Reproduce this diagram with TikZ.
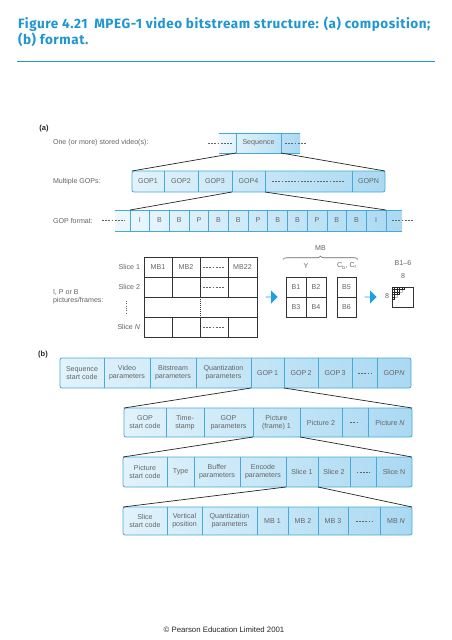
\documentclass[tikz,border=0pt]{standalone}
\usepackage{fontspec}
\setmainfont{Liberation Sans}
\newfontfamily\titlefont[LetterSpace=4]{Fira Sans}
\usetikzlibrary{shapes.arrows,decorations.pathreplacing,calc}
\definecolor{tblue}{RGB}{30,150,210}
\definecolor{cellL}{RGB}{226,243,252}
\definecolor{cellR}{RGB}{170,217,242}
\definecolor{cellB}{RGB}{70,170,216}
\definecolor{txt}{RGB}{100,100,100}
\definecolor{ablue}{RGB}{30,160,225}
\begin{document}
\begin{tikzpicture}[x=1pt,y=-1pt,
  lbl/.style={font=\fontsize{7.1}{8}\selectfont, text=txt, inner sep=0pt, outer sep=0pt},
  cell/.style={lbl, align=center, anchor=center},
  rowbox/.style={draw=cellB, line width=0.8pt, rounded corners=2pt, inner sep=0pt, outer sep=0pt, left color=cellL, right color=cellR},
  strip/.style={inner sep=0pt, outer sep=0pt, left color=cellL!60!white, right color=cellR},
  divider/.style={draw=cellB, line width=0.8pt},
  fan/.style={draw=black!85, line width=0.7pt},
  gridln/.style={draw=black!80, line width=0.7pt},
  dashln/.style={draw=txt, dash pattern=on 1.8pt off 1.4pt, line width=0.6pt},
  bluearrow/.style={single arrow, fill=ablue, draw=none, minimum height=12pt, minimum width=13pt, single arrow head extend=3pt, inner sep=0pt},
  sectlbl/.style={font=\bfseries\fontsize{7.5}{9}\selectfont, text=black!85, inner sep=0pt}
]
\useasboundingbox (0,0) rectangle (452,640);
\fill[white] (0,0) rectangle (452,640);

% title
\node[anchor=base west, inner sep=0pt, font=\titlefont\bfseries\fontsize{13.5}{15}\selectfont, text=tblue] (title1) at (18,28) {Figure 4.21\enspace MPEG-1 video bitstream structure: (a) composition;};
\node[anchor=base west, inner sep=0pt, font=\titlefont\bfseries\fontsize{13.5}{15}\selectfont, text=tblue] (title2) at (18,44) {(b) format.};
\draw[tblue, line width=1.5pt] (17,61.5) -- (435,61.5);

% ===== (a) =====
\node[sectlbl] (la) at (44,129) {(a)};
\node[lbl, anchor=west] (t1) at (53,143) {One (or more) stored video(s):};
\node[lbl, anchor=west] (t2) at (53,181.5) {Multiple GOPs:};
\node[lbl, anchor=west] (t3) at (53,220.5) {GOP format:};

% sequence strip
\node[strip, minimum width=81pt, minimum height=20pt] (seqstrip) at (259.5,143) {};
\draw[divider] (seqstrip.north west) -- (seqstrip.north east);
\draw[divider] (seqstrip.south west) -- (seqstrip.south east);
\node[cell, draw=cellB, line width=0.8pt, minimum width=45pt, minimum height=20pt] (seq) at (258.5,143) {Sequence};
\draw[dashln] (208,143) -- (232,143);
\draw[dashln] (285,143) -- (307,143);

% GOP row
\node[rowbox, minimum width=253pt, minimum height=21pt] (rowa2) at (258.5,181.5) {};
\foreach \n/\l/\r/\t in {g1/132/164/{GOP1}, g2/164/198/{GOP2}, g3/198/232/{GOP3}, g4/232/265/{GOP4}, gd/265/352/{}, gN/352/385/{GOPN}}
  \node[cell, minimum width={(\r-\l)*1pt}, minimum height=21pt] (\n) at ({(\l+\r)/2},181.5) {\t};
\foreach \n in {g2,g3,g4,gd,gN} \draw[divider] (\n.north west) -- (\n.south west);
\draw[dashln] ($(gd.west)+(7,0)$) -- ($(gd.east)+(-7,0)$);

% GOP format strip
\node[strip, minimum width=287pt, minimum height=21pt] (fmtstrip) at (258.5,220.5) {};
\draw[divider] (fmtstrip.north west) -- (fmtstrip.north east);
\draw[divider] (fmtstrip.south west) -- (fmtstrip.south east);
\foreach \t [count=\i] in {I,B,B,P,B,B,P,B,B,P,B,B,I}
  \node[cell, draw=cellB, line width=0.8pt, minimum width=19.69pt, minimum height=21pt] (f\i) at ({130+19.69*(\i-0.5)},220.5) {\t};
\draw[dashln] (102,220.5) -- (125,220.5);
\draw[dashln] (392,220.5) -- (413,220.5);

% fans (a)
\draw[fan] (seq.south west) -- (rowa2.north west);
\draw[fan] (seq.south east) -- (rowa2.north east);
\draw[fan] (g4.south west) -- (f1.north west);
\draw[fan] (g4.south east) -- (f13.north east);

% slices grid
\node[lbl, anchor=west, align=left] (ipb) at (53,297) {I, P or B\\pictures/frames:};
\node[lbl, anchor=east] (sl1) at (140,267) {Slice 1};
\node[lbl, anchor=east] (sl2) at (140,287) {Slice 2};
\node[lbl, anchor=east] (slN) at (140,327) {Slice \textit{N}};
\draw[txt, line width=0.9pt, dash pattern=on 1pt off 1.3pt] (126,301) -- (126,313);
\node[gridln, minimum width=113pt, minimum height=80pt, inner sep=0pt, outer sep=0pt] (sgrid) at (200.5,297) {};
\foreach \y in {277,297,317} \draw[gridln] (144,\y) -- (257,\y);
\foreach \x in {172,200,228} {\draw[gridln] (\x,257) -- (\x,297); \draw[gridln] (\x,317) -- (\x,337);}
\draw[gridln, dash pattern=on 1pt off 1pt] (200,297) -- (200,317);
\node[lbl] (mb1) at (158,267) {MB1};
\node[lbl] (mb2) at (186,267) {MB2};
\node[lbl] (mb22) at (242.5,267) {MB22};
\foreach \y in {267,287,327} \draw[dashln] (203,\y) -- (225,\y);

% MB blocks
\node[gridln, minimum width=40pt, minimum height=40pt, inner sep=0pt, outer sep=0pt] (mbY) at (306,297) {};
\draw[gridln] (306,277) -- (306,317);
\draw[gridln] (286,297) -- (326,297);
\node[lbl] (b1) at (296,287) {B1};
\node[lbl] (b2) at (316,287) {B2};
\node[lbl] (b3) at (296,307) {B3};
\node[lbl] (b4) at (316,307) {B4};
\node[gridln, minimum width=19pt, minimum height=40pt, inner sep=0pt, outer sep=0pt] (mbC) at (346.5,297) {};
\draw[gridln] (337,297) -- (356,297);
\node[lbl] (b5) at (346.5,287) {B5};
\node[lbl] (b6) at (346.5,307) {B6};
\draw[txt, line width=0.6pt, decorate, decoration={brace, amplitude=3.5pt}] (283,259.5) -- (358,259.5);
\node[lbl] (mblbl) at (320.5,248) {MB};
\node[lbl] (ylbl) at (306,266) {Y};
\node[lbl] (clbl) at (347,266) {C\textsubscript{b}, C\textsubscript{r}};

% arrows
\node[bluearrow] (arr1) at ($(sgrid.east)!0.5!(mbY.west)$) {};

% 8x8 block
\node[lbl] (b16) at (403,263) {B1--6};
\node[lbl] (e8a) at (403,276) {8};
\node[gridln, minimum width=21pt, minimum height=20pt, inner sep=0pt, outer sep=0pt] (blk) at (402.5,297) {};
\node[lbl] (e8b) at (387,296.5) {8};
\node[bluearrow] (arr2) at ($(mbC.east)!0.4!(blk.west)$) {};
\begin{scope}[shift={(392,287)}]
  \begin{scope}
    \clip (-0.3,-0.3) -- (12.8,-0.3) -- (12.8,2.8) -- (10.3,2.8) -- (10.3,5.3) -- (7.8,5.3) -- (7.8,7.8) -- (5.3,7.8) -- (5.3,10.3) -- (2.8,10.3) -- (2.8,12.8) -- (-0.3,12.8) -- cycle;
    \draw[black!85, line width=0.5pt, step=2.5pt] (0,0) grid (12.5,12.5);
  \end{scope}
\end{scope}

% ===== (b) =====
\node[sectlbl] (lb) at (43,355) {(b)};

% row b1
\node[rowbox, minimum width=351pt, minimum height=30pt] (rb1) at (235.5,373) {};
\foreach \n/\l/\r/\t in {sq/60/104/{Sequence\\start code}, vid/104/150/{Video\\parameters}, bit/150/196/{Bitstream\\parameters}, qnt/196/251/{Quantization\\parameters}, bg1/251/284/{GOP\,1}, bg2/284/318/{GOP\,2}, bg3/318/352/{GOP\,3}, bgd/352/377/{}, bgN/377/411/{GOP\textit{N}}}
  \node[cell, minimum width={(\r-\l)*1pt}, minimum height=30pt] (\n) at ({(\l+\r)/2},373) {\t};
\foreach \n in {vid,bit,qnt,bg1,bg2,bg3,bgd,bgN} \draw[divider] (\n.north west) -- (\n.south west);
\draw[dashln] ($(bgd.center)+(-6.5,0)$) -- ($(bgd.center)+(6.5,0)$);

% row b2
\node[rowbox, minimum width=288pt, minimum height=29pt] (rb2) at (268,422.5) {};
\foreach \n/\l/\r/\t in {gsc/124/166/{GOP\\start code}, ts/166/204/{Time-\\stamp}, gp/204/253/{GOP\\parameters}, p1/253/300/{Picture\\(frame) 1}, p2/300/342/{Picture 2}, pd/342/368/{}, pN/368/412/{Picture \textit{N}}}
  \node[cell, minimum width={(\r-\l)*1pt}, minimum height=29pt] (\n) at ({(\l+\r)/2},422.5) {\t};
\foreach \n in {ts,gp,p1,p2,pd,pN} \draw[divider] (\n.north west) -- (\n.south west);
\draw[dashln] ($(pd.center)+(-4.8,0)$) -- ($(pd.center)+(4.8,0)$);

% row b3
\node[rowbox, minimum width=289pt, minimum height=30pt] (rb3) at (267.5,472) {};
\foreach \n/\l/\r/\t in {psc/123/167/{Picture\\start code}, typ/167/194/{Type}, buf/194/240/{Buffer\\parameters}, enc/240/286/{Encode\\parameters}, s1/286/318/{Slice 1}, s2/318/350/{Slice 2}, sd/350/376/{}, sN/376/412/{Slice N}}
  \node[cell, minimum width={(\r-\l)*1pt}, minimum height=30pt] (\n) at ({(\l+\r)/2},472) {\t};
\foreach \n in {typ,buf,enc,s1,s2,sd,sN} \draw[divider] (\n.north west) -- (\n.south west);
\draw[dashln] ($(sd.center)+(-6.5,0)$) -- ($(sd.center)+(6.5,0)$);

% row b4
\node[rowbox, minimum width=289pt, minimum height=28pt] (rb4) at (267.5,521) {};
\foreach \n/\l/\r/\t in {ssc/123/167/{Slice\\start code}, vp/167/202/{Vertical\\position}, qp/202/257/{Quantization\\parameters}, m1/257/288/{MB 1}, m2/288/318/{MB 2}, m3/318/348/{MB 3}, md/348/380/{}, mN/380/412/{MB \textit{N}}}
  \node[cell, minimum width={(\r-\l)*1pt}, minimum height=28pt] (\n) at ({(\l+\r)/2},521) {\t};
\foreach \n in {vp,qp,m1,m2,m3,md,mN} \draw[divider] (\n.north west) -- (\n.south west);
\draw[dashln] ($(md.center)+(-8.3,0)$) -- ($(md.center)+(8.3,0)$);

% fans (b)
\draw[fan] (bg1.south west) -- (rb2.north west);
\draw[fan] (bg1.south east) -- (rb2.north east);
\draw[fan] (p1.south west) -- (rb3.north west);
\draw[fan] (p1.south east) -- (rb3.north east);
\draw[fan] (s1.south west) -- (rb4.north west);
\draw[fan] (s1.south east) -- (rb4.north east);

% copyright
\node[inner sep=0pt, font=\fontsize{7.8}{9}\selectfont, text=black!85] (copy) at (224,630) {\textcopyright{} Pearson Education Limited 2001};
\end{tikzpicture}
\end{document}
